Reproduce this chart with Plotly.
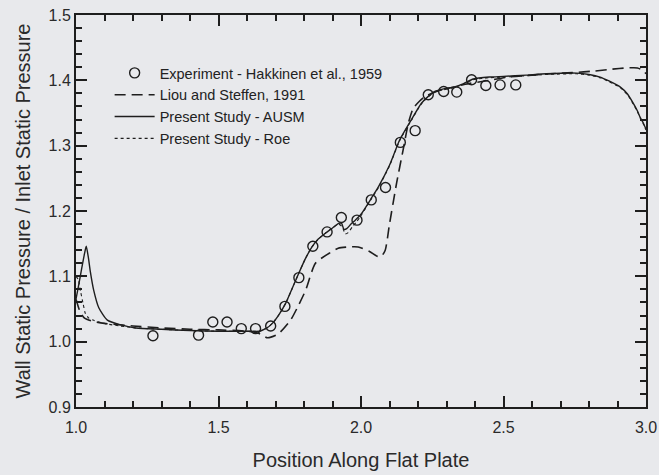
import plotly.graph_objects as go

# Experimental data (Hakkinen et al., 1959)
exp_x = [1.27, 1.43, 1.48, 1.53, 1.58, 1.63, 1.683, 1.733, 1.782, 1.831, 1.881, 1.931,
         1.986, 2.036, 2.086, 2.138, 2.19, 2.236, 2.29, 2.336, 2.388, 2.438, 2.488, 2.543]
exp_y = [1.009, 1.010, 1.030, 1.030, 1.020, 1.020, 1.024, 1.054, 1.098, 1.146, 1.168, 1.190,
         1.186, 1.217, 1.236, 1.305, 1.323, 1.378, 1.383, 1.382, 1.401, 1.392, 1.393, 1.393]

# Liou and Steffen, 1991 (dashed)
liou_x = [1.0, 1.015, 1.03, 1.06, 1.1, 1.2, 1.3, 1.4, 1.5, 1.6, 1.64, 1.672, 1.71, 1.753,
          1.78, 1.806, 1.84, 1.887, 1.92, 1.956, 1.99, 2.03, 2.055, 2.07, 2.085, 2.1, 2.125,
          2.148, 2.166, 2.183, 2.205, 2.224, 2.26, 2.3, 2.365, 2.45, 2.514, 2.6, 2.664, 2.75,
          2.813, 2.88, 2.933, 2.97, 2.99, 3.0]
liou_y = [1.065, 1.045, 1.036, 1.031, 1.028, 1.024, 1.021, 1.019, 1.018, 1.016, 1.013, 1.006,
          1.012, 1.033, 1.055, 1.079, 1.120, 1.135, 1.143, 1.145, 1.145, 1.138, 1.131, 1.130,
          1.14, 1.18, 1.243, 1.294, 1.334, 1.357, 1.368, 1.375, 1.382, 1.387, 1.394, 1.400,
          1.405, 1.408, 1.410, 1.412, 1.414, 1.417, 1.419, 1.419, 1.415, 1.41]

# Present Study - AUSM (solid)
ausm_x = [1.0, 1.01, 1.02, 1.03, 1.036, 1.043, 1.05, 1.062, 1.08, 1.11, 1.155, 1.21, 1.3,
          1.4, 1.5, 1.6, 1.643, 1.67, 1.689, 1.71, 1.736, 1.76, 1.782, 1.805, 1.828, 1.85,
          1.875, 1.9, 1.922, 1.932, 1.94, 1.95, 1.965, 1.98, 2.0, 2.037, 2.061, 2.1, 2.136,
          2.177, 2.212, 2.24, 2.259, 2.29, 2.328, 2.36, 2.394, 2.45, 2.5, 2.58, 2.65, 2.757,
          2.8, 2.839, 2.87, 2.909, 2.935, 2.955, 2.97, 2.98, 2.99, 3.0]
ausm_y = [1.065, 1.088, 1.112, 1.135, 1.146, 1.13, 1.108, 1.079, 1.052, 1.033, 1.026, 1.021,
          1.019, 1.017, 1.016, 1.016, 1.016, 1.021, 1.028, 1.040, 1.059, 1.083, 1.105, 1.127,
          1.145, 1.157, 1.166, 1.174, 1.181, 1.181, 1.172, 1.173, 1.180, 1.186, 1.195, 1.220,
          1.237, 1.270, 1.309, 1.340, 1.365, 1.377, 1.383, 1.387, 1.390, 1.395, 1.402, 1.405,
          1.406, 1.408, 1.410, 1.411, 1.409, 1.405, 1.399, 1.390, 1.379, 1.365, 1.353, 1.343,
          1.335, 1.325]

# Present Study - Roe (dotted)
roe_x = [1.0, 1.008, 1.016, 1.025, 1.033, 1.045, 1.06, 1.08, 1.11, 1.155, 1.21, 1.3, 1.4,
         1.5, 1.6, 1.643, 1.67, 1.689, 1.71, 1.736, 1.76, 1.782, 1.805, 1.828, 1.85, 1.875,
         1.9, 1.922, 1.935, 1.945, 1.955, 1.97, 1.985, 2.0, 2.037, 2.061, 2.1, 2.136, 2.177,
         2.212, 2.24, 2.259, 2.29, 2.328, 2.36, 2.394, 2.45, 2.5, 2.58, 2.65, 2.757, 2.8,
         2.839, 2.87, 2.909, 2.935, 2.955, 2.97, 2.98, 2.99, 3.0]
roe_y = [1.10, 1.095, 1.077, 1.058, 1.043, 1.036, 1.033, 1.030, 1.027, 1.024, 1.021, 1.019,
         1.017, 1.016, 1.016, 1.016, 1.021, 1.028, 1.040, 1.059, 1.083, 1.105, 1.127, 1.145,
         1.157, 1.166, 1.174, 1.180, 1.175, 1.165, 1.167, 1.176, 1.184, 1.193, 1.219, 1.236,
         1.269, 1.308, 1.339, 1.364, 1.376, 1.382, 1.386, 1.389, 1.394, 1.401, 1.404, 1.405,
         1.407, 1.409, 1.410, 1.408, 1.404, 1.398, 1.389, 1.378, 1.364, 1.352, 1.342, 1.334,
         1.324]

x_ticks = [1.0, 1.5, 2.0, 2.5, 3.0]
y_ticks = [0.9, 1.0, 1.1, 1.2, 1.3, 1.4, 1.5]
x_minor = [round(1.0 + 0.1 * i, 2) for i in range(21)]
y_minor = [round(0.9 + 0.02 * i, 3) for i in range(31)]
x_range = [1.0, 3.0]
y_range = [0.9, 1.5]

INK = "#1e1e1e"
BG = "#e8e9ec"
FONT = "Liberation Sans, Arial, sans-serif"
TXT = "#2a2a2a"

fig = go.Figure()
fig.add_trace(go.Scatter(
    x=exp_x, y=exp_y, mode="markers", name="Experiment - Hakkinen et al., 1959",
    marker=dict(symbol="circle-open", size=10, color=INK, line=dict(width=1.4, color=INK))))
fig.add_trace(go.Scatter(
    x=liou_x, y=liou_y, mode="lines", name="Liou and Steffen, 1991",
    line=dict(color=INK, width=1.6, dash="11px,6px", shape="spline", smoothing=0.6)))
fig.add_trace(go.Scatter(
    x=ausm_x, y=ausm_y, mode="lines", name="Present Study - AUSM",
    line=dict(color=INK, width=1.4, shape="spline", smoothing=0.6)))
fig.add_trace(go.Scatter(
    x=roe_x, y=roe_y, mode="lines", name="Present Study - Roe",
    line=dict(color=INK, width=1.1, dash="dot", shape="spline", smoothing=0.6)))

common = dict(
    showline=True, linecolor=INK, linewidth=2, mirror="ticks",
    ticks="inside", tickcolor=INK, tickwidth=2, ticklen=11,
    showgrid=False, zeroline=False, automargin=False,
    tickfont=dict(family=FONT, size=16, color=TXT),
)

fig.update_layout(
    width=659, height=475,
    margin=dict(l=76, r=13, t=15, b=68),
    paper_bgcolor=BG, plot_bgcolor=BG,
    showlegend=True,
    xaxis=dict(
        range=x_range, tickmode="array", tickvals=x_ticks,
        ticktext=[f"{v:.1f}" for v in x_ticks],
        minor=dict(ticks="inside", tickmode="array", tickvals=x_minor,
                   ticklen=6, tickwidth=1.6, tickcolor=INK),
        ticklabelstandoff=5,
        title=dict(text="Position Along Flat Plate", font=dict(family=FONT, size=20, color=TXT),
                   standoff=18),
        **common),
    yaxis=dict(
        range=y_range, tickmode="array", tickvals=y_ticks,
        ticktext=[f"{v:.1f}" for v in y_ticks],
        minor=dict(ticks="inside", tickmode="array", tickvals=y_minor,
                   ticklen=6, tickwidth=1.6, tickcolor=INK),
        title=dict(text="Wall Static Pressure / Inlet Static Pressure",
                   font=dict(family=FONT, size=20, color=TXT), standoff=13),
        **common),
    legend=dict(x=0.059, y=0.893, xanchor="left", yanchor="top",
                bgcolor="rgba(0,0,0,0)", borderwidth=0,
                font=dict(family=FONT, size=14.5, color="#222"),
                itemwidth=40, tracegroupgap=0),
)

fig.write_html("out.html", post_script="document.body.style.margin='0px';",
               config={"displayModeBar": False})
